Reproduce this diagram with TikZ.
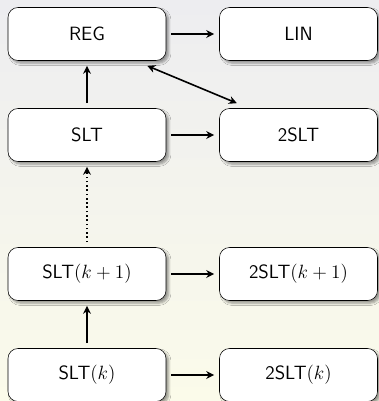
\documentclass[tikz,border=0pt]{standalone}
\usepackage{tikz}
\usetikzlibrary{arrows.meta, shadows.blur}

\definecolor{bgtop}{RGB}{237,237,240}
\definecolor{bgbot}{RGB}{251,251,234}

\begin{document}
\begin{tikzpicture}[x=0.75pt,y=-0.75pt,
  cls/.style={rectangle, draw, fill=white, rounded corners=7.5pt,
    minimum width=118.5pt, minimum height=39.75pt, outer sep=4pt,
    font=\sffamily\Large,
    blur shadow={shadow xshift=2pt, shadow yshift=-2pt, shadow blur steps=6}},
  arr/.style={-{Stealth[length=6pt,width=6pt]}, line width=1.2pt}]

\useasboundingbox (0,0) rectangle (379,401);
\shade[top color=bgtop, bottom color=bgbot] (0,0) rectangle (379,401); %background

% left column
\node[cls] (reg) at (87,34) {REG};
\node[cls] (slt) at (87,135) {SLT};
\node[cls] (sltk1) at (87,274) {SLT$(k+1)$};
\node[cls] (sltk) at (87,375) {SLT$(k)$};

% right column
\node[cls] (lin) at (298.5,34) {LIN};
\node[cls] (tslt) at (298.5,135) {2SLT};
\node[cls] (tsltk1) at (298.5,274) {2SLT$(k+1)$};
\node[cls] (tsltk) at (298.5,375) {2SLT$(k)$};

\draw[arr] (reg) -- (lin);
\draw[arr] (slt) -- (tslt);
\draw[arr] (sltk1) -- (tsltk1);
\draw[arr] (sltk) -- (tsltk);

\draw[arr] (slt) -- (reg);
\draw[arr, dotted] (sltk1) -- (slt);
\draw[arr] (sltk) -- (sltk1);

\draw[arr, {Stealth[length=6pt,width=6pt]}-{Stealth[length=6pt,width=6pt]}]
  ([xshift=-18pt]reg.south east) -- ([xshift=17pt]tslt.north west);
\end{tikzpicture}
\end{document}
